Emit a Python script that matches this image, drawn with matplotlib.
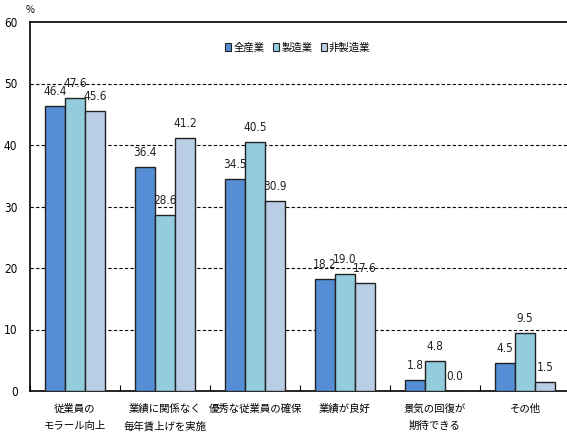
import matplotlib
matplotlib.use("Agg")
import matplotlib.pyplot as plt
from matplotlib.patches import Patch
import numpy as np

plt.rcParams['font.family'] = ['Noto Sans CJK JP', 'DejaVu Sans']

categories = ["従業員の\nモラール向上", "業績に関係なく\n毎年賃上げを実施", "優秀な従業員の確保",
              "業績が良好", "景気の回復が\n期待できる", "その他"]
series_names = ["全産業", "製造業", "非製造業"]
all_industry = [46.4, 36.4, 34.5, 18.2, 1.8, 4.5]
manufacturing = [47.6, 28.6, 40.5, 19.0, 4.8, 9.5]
non_manufacturing = [45.6, 41.2, 30.9, 17.6, 0.0, 1.5]
y_ticks = [0, 10, 20, 30, 40, 50, 60]

colors = ["#558ED5", "#93CDDD", "#B9CDE5"]
series = [all_industry, manufacturing, non_manufacturing]

fig = plt.figure(figsize=(5.67, 4.37), dpi=100)
ax = fig.add_axes([30 / 567, 1 - 391 / 437, 540 / 567, 369 / 437])

x = np.arange(len(categories))
w = 0.222
for i, (vals, c) in enumerate(zip(series, colors)):
    pos = x + (i - 1) * w
    ax.bar(pos, vals, width=w, color=c, edgecolor="#222222", linewidth=1.0, zorder=3)
    for p, v in zip(pos, vals):
        ax.text(p, v + 1.3, f"{v:.1f}", ha="center", va="bottom", fontsize=8.5,
                family="DejaVu Sans", fontstretch="condensed", color="#222222", zorder=4)

ax.set_xlim(-0.5, len(categories) - 0.5)
ax.set_ylim(0, 60)
ax.set_yticks(y_ticks)
ax.set_yticklabels([str(t) for t in y_ticks], fontsize=8.5, family="DejaVu Sans",
                   fontstretch="condensed")
ax.tick_params(axis="y", length=0, pad=9)
for t in y_ticks[1:-1]:
    ax.axhline(t, color="black", linestyle=(0, (3, 2)), linewidth=0.8, zorder=1)

ax.set_xticks(x)
ax.set_xticklabels(categories, fontsize=7.5, linespacing=1.9)
ax.tick_params(axis="x", length=0, pad=9)
ax.set_xticks(np.arange(len(categories) + 1) - 0.5, minor=True)
ax.tick_params(axis="x", which="minor", direction="in", length=4, width=0.8)

ax.spines["right"].set_visible(False)
for s in ["left", "top", "bottom"]:
    ax.spines[s].set_linewidth(1.2)
    ax.spines[s].set_color("black")

fig.text(30 / 567, 1 - 10 / 437, "%", fontsize=7, ha="center", va="center")

handles = [Patch(facecolor=c, edgecolor="#222222", linewidth=0.8) for c in colors]
ax.legend(handles, series_names, loc="center", bbox_to_anchor=(0.496, 0.93),
          ncol=3, frameon=False, fontsize=7.5, handlelength=0.6, handleheight=0.8,
          handletextpad=0.2, columnspacing=0.8)

fig.savefig("out.png", dpi=100)
